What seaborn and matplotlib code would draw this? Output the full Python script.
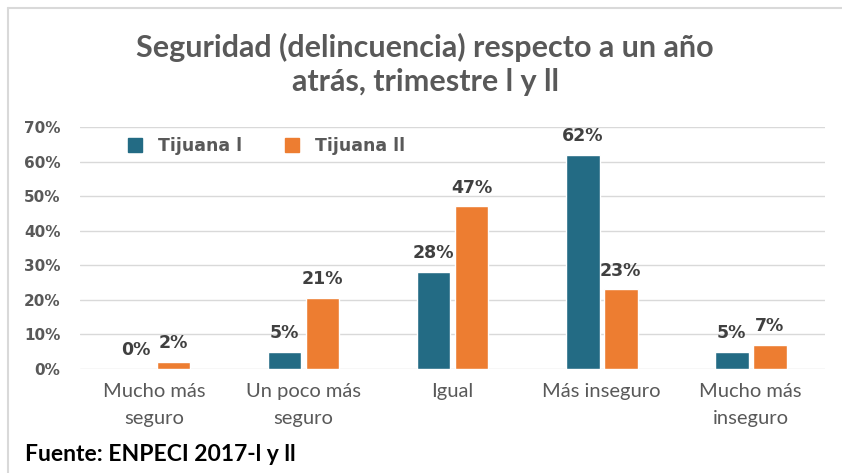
import matplotlib
matplotlib.use("Agg")
import matplotlib.pyplot as plt
import seaborn as sns
import pandas as pd
from matplotlib.lines import Line2D

sns.set_style("white")
plt.rcParams['font.family'] = ['DejaVu Sans']

# datos
categorias = ["Mucho más\nseguro", "Un poco más\nseguro", "Igual", "Más inseguro", "Mucho más\ninseguro"]
tijuana_1 = [0, 5, 28, 62, 5]
tijuana_2 = [2, 20.6, 47, 23, 7]
series = ["Tijuana l", "Tijuana ll"]
colores = ["#236B84", "#ED7D31"]

df = pd.DataFrame({
    "categoria": categorias * 2,
    "valor": tijuana_1 + tijuana_2,
    "serie": [series[0]] * len(categorias) + [series[1]] * len(categorias),
})

gris = "#595959"
fig = plt.figure(figsize=(8.42, 4.73), dpi=100)
ax = fig.add_axes([0.095, 0.22, 0.885, 0.5115])

sns.barplot(data=df, x="categoria", y="valor", hue="serie", palette=colores,
            width=0.51, gap=0.11, ax=ax, legend=False, saturation=1)

ax.set_ylim(0, 70)
ax.set_yticks(range(0, 71, 10))
ax.set_yticklabels([f"{v}%" for v in range(0, 71, 10)], fontsize=11,
                   fontweight="bold", color=gris)
ax.set_xticks(range(len(categorias)))
ax.set_xticklabels(categorias, fontsize=14.5, color=gris, family="Lato",
                   linespacing=1.7)
ax.tick_params(axis="both", length=0)
ax.tick_params(axis="x", pad=10)
ax.tick_params(axis="y", pad=14)
ax.set_xlabel("")
ax.set_ylabel("")
ax.grid(axis="y", color="#D9D9D9", linewidth=1)
ax.set_axisbelow(True)
for s in ax.spines.values():
    s.set_visible(False)

for cont in ax.containers:
    ax.bar_label(cont, fmt="%.0f%%", padding=7, fontsize=12.5,
                 fontweight="bold", color="#404040")

handles = [Line2D([0], [0], marker="s", linestyle="", markersize=10,
                  color=c) for c in colores]
ax.legend(handles, series, loc="upper left", bbox_to_anchor=(0.03, 1.025),
          ncol=2, frameon=False, columnspacing=1.9, handletextpad=0.3,
          prop={"weight": "bold", "size": 12.5}, labelcolor=gris)

fig.text(0.505, 0.863, "Seguridad (delincuencia) respecto a un año\natrás, trimestre l y ll",
         ha="center", va="center", fontsize=22, fontweight="bold",
         color=gris, family="Lato", linespacing=1.25)
fig.text(0.03, 0.04, "Fuente: ENPECI 2017-l y ll", ha="left", va="center",
         fontsize=16.5, fontweight="bold", color="black", family="Lato")

# marco
fig.add_artist(Line2D([0.009, 1.0], [0.983, 0.983], color="#D9D9D9", lw=1.5,
                      transform=fig.transFigure))
fig.add_artist(Line2D([0.009, 0.009], [0.0, 0.983], color="#D9D9D9", lw=1.5,
                      transform=fig.transFigure))

fig.savefig("out.png", dpi=100)
